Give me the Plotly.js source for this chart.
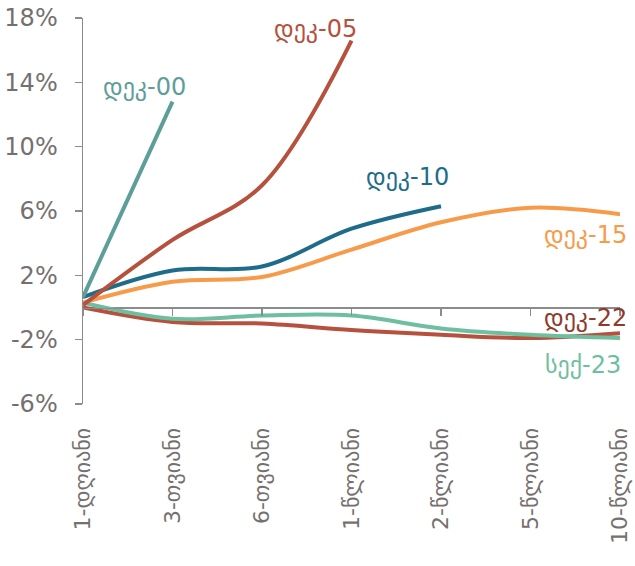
<!DOCTYPE html>
<html>
<head>
<meta charset="utf-8">
<script src="https://cdn.plot.ly/plotly-3.0.1.min.js"></script>
<style>html,body{margin:0;padding:0;background:#fff;}#chart{width:635px;height:566px;}</style>
</head>
<body>
<div id="chart"></div>
<script>
const categories = ["1-დღიანი","3-თვიანი","6-თვიანი","1-წლიანი","2-წლიანი","5-წლიანი","10-წლიანი"];
const seriesNames = ["დეკ-00","დეკ-05","დეკ-10","დეკ-15","დეკ-22","სექ-23"];
const dec00 = [0.65, 12.8, null, null, null, null, null];
const dec05 = [0.15, 4.2, 7.6, 16.6, null, null, null];
const dec10 = [0.65, 2.3, 2.55, 4.9, 6.3, null, null];
const dec15 = [0.3, 1.6, 1.9, 3.6, 5.3, 6.2, 5.8];
const dec22 = [0.0, -0.9, -1.0, -1.4, -1.7, -1.9, -1.6];
const sep23 = [0.3, -0.7, -0.5, -0.5, -1.3, -1.7, -1.9];
const yTicks = [-6, -2, 2, 6, 10, 14, 18];
const yTickText = ["-6%","-2%","2%","6%","10%","14%","18%"];

const colors = ["#5E9E99","#B5513D","#1E6C8A","#F79B4B","#B5513D","#6DBFA0"];
const labelColors = ["#5E9E99","#B5513D","#1E6C8A","#F79B4B","#8E3A2C","#6DBFA0"];
const values = [dec00, dec05, dec10, dec15, dec22, sep23];
// label anchor positions (category index, value)
const labelX = [0.69, 2.6, 3.63, 5.61, 5.61, 5.59];
const labelY = [13.7, 17.3, 8.1, 4.5, -0.65, -3.6];

const axisData = {x: categories, y: categories.map(() => 0), xaxis: "x2", type: "scatter", mode: "lines",
  line: {color: "rgba(0,0,0,0)", width: 0}, showlegend: false, hoverinfo: "skip"};

const traces = values.map((v, i) => ({
  x: categories.slice(0, v.filter(d => d !== null).length),
  y: v.filter(d => d !== null),
  type: "scatter", mode: "lines",
  line: {color: colors[i], width: 4, shape: "spline", smoothing: 1},
  name: seriesNames[i], hoverinfo: "skip"
}));
const order = [4, 5, 3, 2, 1, 0];
const data = [axisData].concat(order.map(i => traces[i]));

const font = "DejaVu Sans, sans-serif";
const annotations = seriesNames.map((n, i) => ({
  x: labelX[i], y: labelY[i], xref: "x", yref: "y", text: n, showarrow: false,
  font: {family: font, size: 24, color: labelColors[i]}
}));

const layout = {
  width: 635, height: 566,
  margin: {l: 83, r: 15, t: 18, b: 162},
  paper_bgcolor: "#fff", plot_bgcolor: "#fff",
  showlegend: false,
  font: {family: font, color: "#757070"},
  xaxis: {
    type: "category", range: [0, 6], categoryarray: categories,
    showgrid: false, zeroline: false, showline: false,
    ticks: "outside", ticklen: 14, tickcolor: "rgba(0,0,0,0)",
    tickangle: -90, tickfont: {family: font, size: 22, color: "#757070"}
  },
  xaxis2: {
    type: "category", range: [0, 6], categoryarray: categories,
    overlaying: "x", anchor: "free", position: 0.25, side: "bottom",
    showgrid: false, zeroline: false, showline: true, linecolor: "#8c8c8c", linewidth: 1.5,
    ticks: "outside", ticklen: 7, tickcolor: "#8c8c8c", tickwidth: 1.5,
    showticklabels: false
  },
  yaxis: {
    range: [-6, 18], tickvals: yTicks, ticktext: yTickText,
    showgrid: false, zeroline: true, zerolinecolor: "#8c8c8c", zerolinewidth: 1.5,
    showline: true, linecolor: "#8c8c8c", linewidth: 1.5,
    ticks: "outside", ticklen: 7, tickcolor: "#8c8c8c", tickwidth: 1.5,
    ticklabelstandoff: 12,
    tickfont: {family: font, size: 24, color: "#757070"}
  },
  annotations: annotations
};
Plotly.newPlot("chart", data, layout, {displayModeBar: false, staticPlot: true});
</script>
</body>
</html>
